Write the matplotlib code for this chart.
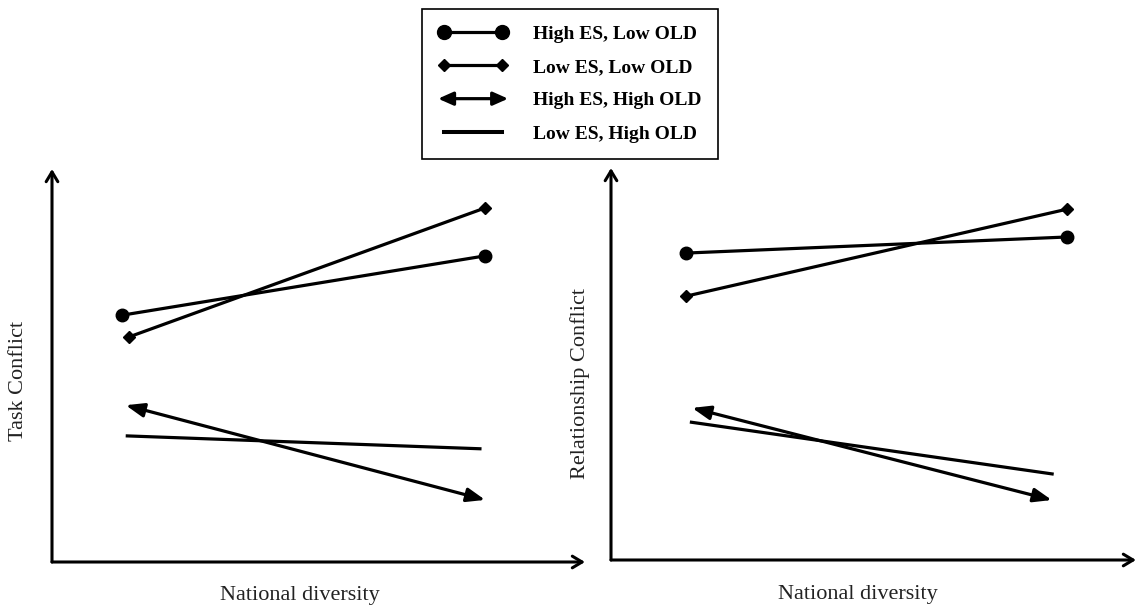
import matplotlib
matplotlib.use("Agg")
import matplotlib.pyplot as plt
from matplotlib.lines import Line2D
from matplotlib.patches import FancyArrowPatch
from matplotlib.legend_handler import HandlerBase

# interaction plot values (arbitrary conflict units, 0 = x-axis, 1 = top of y-axis)
groups = ["High ES, Low OLD", "Low ES, Low OLD", "High ES, High OLD", "Low ES, High OLD"]
diversity = ["low", "high"]

task_x = [[0.0, 1.0], [0.02, 1.0], [0.01, 1.0], [0.01, 0.99]]
task_y = [[0.628, 0.779], [0.573, 0.901], [0.399, 0.158], [0.321, 0.288]]

rel_x = [[0.0, 1.0], [0.0, 1.0], [0.016, 0.96], [0.01, 0.965]]
rel_y = [[0.783, 0.824], [0.673, 0.895], [0.388, 0.153], [0.352, 0.219]]

lw = 2.3
serif = ["Liberation Serif", "DejaVu Serif"]


class ArrowHandler(HandlerBase):
	def create_artists(self, legend, orig_handle, xdescent, ydescent, width, height, fontsize, trans):
		y = height / 2 - ydescent
		p = FancyArrowPatch((-xdescent, y), (-xdescent + width, y),
							arrowstyle="<|-|>,head_length=9,head_width=4",
							mutation_scale=1, lw=lw, color="k",
							shrinkA=0, shrinkB=0, transform=trans)
		return [p]


def draw_panel(ax, xs, ys, xlim, ylabel, ylabel_pos, xlabel_pos):
	ax.set_xlim(*xlim)
	ax.set_ylim(0, 1)
	for s in ax.spines.values():
		s.set_visible(False)
	ax.set_xticks([])
	ax.set_yticks([])
	# axis arrows
	ax.annotate("", xy=(0, 1), xytext=(0, 0), xycoords="axes fraction",
				arrowprops=dict(arrowstyle="->,head_length=0.5,head_width=0.3", lw=2.2,
								color="k", shrinkA=0, shrinkB=0, mutation_scale=14))
	ax.annotate("", xy=(1, 0), xytext=(0, 0), xycoords="axes fraction",
				arrowprops=dict(arrowstyle="->,head_length=0.5,head_width=0.3", lw=2.2,
								color="k", shrinkA=0, shrinkB=0, mutation_scale=14))

	ax.plot(xs[0], ys[0], color="k", lw=lw, marker="o", ms=9, clip_on=False)
	ax.plot(xs[1], ys[1], color="k", lw=lw, marker="D", ms=6.5, clip_on=False)
	ax.annotate("", xy=(xs[2][1], ys[2][1]), xytext=(xs[2][0], ys[2][0]),
				arrowprops=dict(arrowstyle="<|-|>,head_length=1.0,head_width=0.38",
								lw=lw, color="k", shrinkA=0, shrinkB=0, mutation_scale=11))
	ax.plot(xs[3], ys[3], color="k", lw=lw, solid_capstyle="butt")

	ax.set_ylabel(ylabel, fontsize=16, family=serif, color="#222222")
	ax.yaxis.set_label_coords(*ylabel_pos)
	ax.set_xlabel("National diversity", fontsize=16, family=serif, color="#222222")
	ax.xaxis.set_label_coords(*xlabel_pos)


fig = plt.figure(figsize=(11.37, 6.05), dpi=100)
ax1 = fig.add_axes([52 / 1137, 43 / 605, 533 / 1137, 393 / 605])
ax2 = fig.add_axes([611 / 1137, 45 / 605, 525 / 1137, 392 / 605])

draw_panel(ax1, task_x, task_y, (-0.193, 1.275), "Task Conflict", (-0.045, 0.46), (0.465, -0.06))
draw_panel(ax2, rel_x, rel_y, (-0.197, 1.181), "Relationship Conflict", (-0.04, 0.45), (0.47, -0.065))

# legend
h_circle = Line2D([], [], color="k", lw=lw, marker="o", ms=10)
h_diamond = Line2D([], [], color="k", lw=lw, marker="D", ms=6.5)
h_arrow = FancyArrowPatch((0, 0), (1, 0))
h_plain = Line2D([], [], color="k", lw=lw + 0.6)
leg = fig.legend([h_circle, h_diamond, h_arrow, h_plain], groups,
				 handler_map={h_arrow: ArrowHandler()}, numpoints=2,
				 loc="upper center", bbox_to_anchor=(570 / 1137, 1 - 9 / 605),
				 prop=dict(family=serif, weight="bold", size=14),
				 handlelength=3.6, handletextpad=1.3, labelspacing=0.8,
				 borderpad=0.85, borderaxespad=0, fancybox=False, edgecolor="k", framealpha=1)
leg.get_frame().set_linewidth(1.2)

fig.savefig("out.png", dpi=100)
